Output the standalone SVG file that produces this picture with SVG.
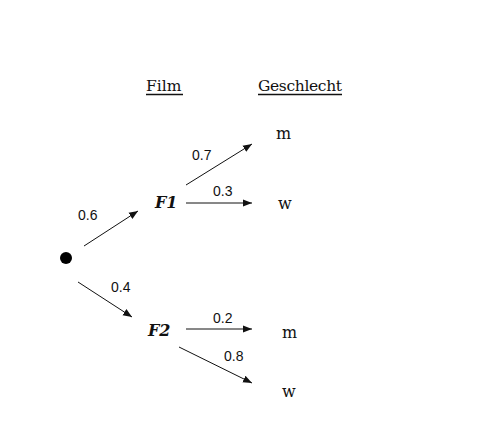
<svg xmlns="http://www.w3.org/2000/svg" width="500" height="431" viewBox="0 0 500 431">
<style>
.h{font-family:"DejaVu Serif","Liberation Serif",serif;font-size:15.5px;fill:#111}
.u{stroke:#111;stroke-width:1.6}
.n{font-family:"DejaVu Serif","Liberation Serif",serif;font-size:16px;fill:#111}
.f{font-family:"DejaVu Serif","Liberation Serif",serif;font-size:16px;font-style:italic;font-weight:bold;fill:#111}
.p{font-family:"Liberation Sans",Arial,sans-serif;font-size:14px;fill:#111}
.c line{stroke:#111;stroke-width:1;marker-end:url(#a)}
</style>
<defs>
<marker id="a" viewBox="0 0 10 10" refX="10" refY="5" markerWidth="9" markerHeight="9" markerUnits="userSpaceOnUse" orient="auto">
<path d="M0,1 L10,5 L0,9 Z" fill="#111"/>
</marker>
</defs>
<rect width="500" height="431" fill="#fff"/>
<text class="h" x="146" y="91">Film</text>
<line class="u" x1="146" y1="94.5" x2="183" y2="94.5"/>
<text class="h" x="258" y="91" textLength="84">Geschlecht</text>
<line class="u" x1="258" y1="94.5" x2="342" y2="94.5"/>
<g id="root"><circle cx="66" cy="258" r="6" fill="#000"/></g>
<g id="F1"><text class="f" x="155" y="208">F1</text></g>
<g id="F2"><text class="f" x="148" y="336">F2</text></g>
<g id="F1m"><text class="n" x="276" y="139">m</text></g>
<g id="F1w"><text class="n" x="278" y="209">w</text></g>
<g id="F2m"><text class="n" x="282" y="338">m</text></g>
<g id="F2w"><text class="n" x="282" y="397">w</text></g>
<g class="c" id="connectors">
<line x1="84" y1="246" x2="138" y2="211"/>
<line x1="78" y1="282" x2="132" y2="317"/>
<line x1="186" y1="185" x2="252" y2="144"/>
<line x1="186" y1="203" x2="252" y2="203"/>
<line x1="186" y1="329" x2="252" y2="329"/>
<line x1="179" y1="347" x2="252" y2="383"/>
</g>
<g id="labels">
<text class="p" x="78" y="220">0.6</text>
<text class="p" x="111" y="292">0.4</text>
<text class="p" x="192" y="160">0.7</text>
<text class="p" x="213" y="196">0.3</text>
<text class="p" x="213" y="323">0.2</text>
<text class="p" x="224" y="361">0.8</text>
</g>
</svg>
